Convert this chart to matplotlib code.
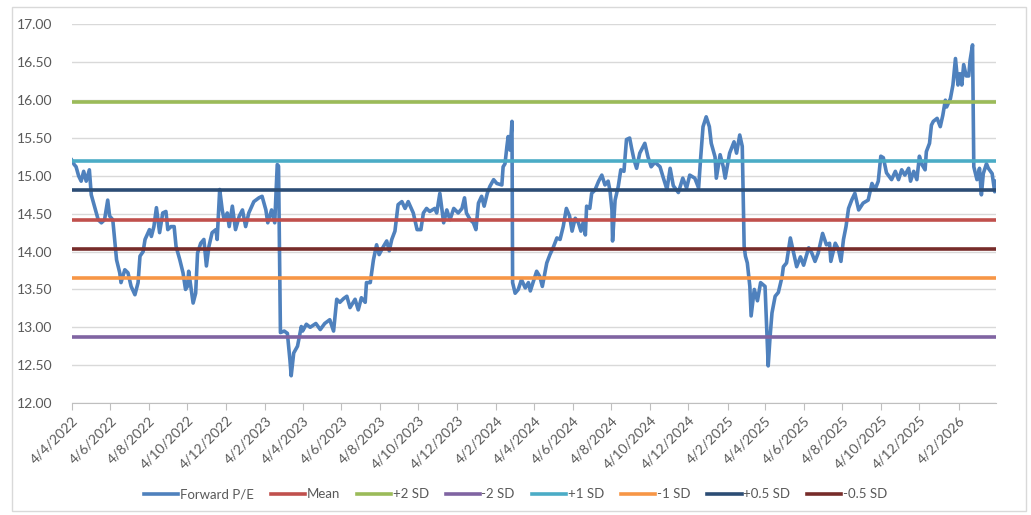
import matplotlib
matplotlib.use("Agg")
import matplotlib.pyplot as plt
import pandas as pd
from matplotlib.patches import Rectangle

plt.rcParams["font.family"] = ["Lato", "DejaVu Sans"]

START = "2022-04-04"
END_DAY = 1461

# forward P/E: day offset from START -> value
DAYS = [
    0, 4, 7, 11, 15, 19, 23, 28, 31, 36, 42, 47, 52, 57, 60, 65, 71, 76, 78, 84,
    89, 94, 100, 105, 108, 113, 116, 123, 126, 130, 134, 139, 144, 149, 152, 157, 162, 165, 171, 176,
    180, 183, 185, 192, 196, 199, 204, 209, 213, 217, 222, 228, 230, 234, 238, 241, 246, 249, 254, 259,
    265, 270, 275, 280, 288, 296, 301, 307, 310, 316, 321, 325, 327, 330, 336, 341, 345, 347, 351, 357,
    363, 365, 371, 377, 386, 393, 400, 408, 414, 419, 424, 430, 435, 440, 448, 453, 458, 464, 466, 472,
    477, 482, 486, 493, 498, 502, 506, 511, 516, 522, 527, 532, 540, 546, 552, 556, 561, 566, 574, 577,
    582, 588, 593, 598, 604, 611, 617, 621, 624, 630, 635, 639, 643, 648, 652, 657, 661, 667, 672, 680,
    682, 685, 688, 690, 693, 696, 697, 701, 706, 711, 717, 722, 725, 730, 735, 740, 744, 751, 756, 761,
    767, 772, 777, 782, 787, 791, 796, 801, 805, 809, 812, 814, 819, 822, 827, 833, 838, 843, 848, 851,
    854, 855, 859, 864, 868, 873, 877, 882, 885, 889, 893, 898, 906, 911, 916, 922, 930, 935, 941, 946,
    951, 959, 966, 972, 977, 985, 991, 994, 998, 1003, 1008, 1011, 1017, 1019, 1025, 1030, 1033, 1040, 1047, 1051,
    1056, 1060, 1063, 1065, 1068, 1072, 1074, 1079, 1084, 1089, 1096, 1101, 1104, 1107, 1112, 1117, 1123, 1125, 1130, 1136,
    1140, 1146, 1152, 1157, 1165, 1170, 1175, 1180, 1187, 1193, 1198, 1200, 1207, 1212, 1216, 1220, 1224, 1228, 1233, 1238,
    1244, 1251, 1259, 1265, 1270, 1275, 1279, 1283, 1288, 1296, 1302, 1307, 1312, 1317, 1323, 1326, 1331, 1336, 1340, 1344,
    1349, 1351, 1356, 1359, 1362, 1368, 1373, 1377, 1381, 1383, 1389, 1393, 1397, 1401, 1404, 1407, 1410, 1414, 1418, 1420,
    1424, 1426, 1431, 1435, 1438, 1441, 1446, 1449, 1455, 1459, 1461,
]
FORWARD_PE = [
    15.21, 15.15, 15.12, 15.00, 14.93, 15.06, 14.93, 15.08, 14.75, 14.60, 14.42, 14.38, 14.42, 14.68, 14.47, 14.42, 13.89, 13.72, 13.59, 13.76,
    13.72, 13.54, 13.43, 13.59, 13.94, 14.00, 14.16, 14.29, 14.20, 14.33, 14.58, 14.25, 14.51, 14.53, 14.29, 14.33, 14.33, 14.07, 13.89, 13.72,
    13.50, 13.54, 13.74, 13.32, 13.45, 13.98, 14.11, 14.16, 13.81, 14.07, 14.25, 14.29, 14.16, 14.82, 14.55, 14.42, 14.51, 14.33, 14.60, 14.29,
    14.47, 14.55, 14.33, 14.51, 14.66, 14.71, 14.73, 14.55, 14.38, 14.55, 14.38, 15.15, 15.13, 12.93, 12.95, 12.92, 12.57, 12.36, 12.66, 12.75,
    13.01, 12.95, 13.04, 13.00, 13.05, 12.97, 13.05, 13.10, 12.95, 13.37, 13.33, 13.38, 13.41, 13.26, 13.37, 13.23, 13.39, 13.33, 13.59, 13.59,
    13.89, 14.09, 13.96, 14.07, 14.14, 14.01, 14.16, 14.27, 14.62, 14.66, 14.57, 14.66, 14.51, 14.29, 14.29, 14.51, 14.57, 14.53, 14.57, 14.51,
    14.77, 14.38, 14.55, 14.42, 14.57, 14.51, 14.57, 14.71, 14.51, 14.42, 14.38, 14.29, 14.64, 14.73, 14.60, 14.77, 14.86, 14.95, 14.90, 14.88,
    15.12, 15.16, 15.39, 15.52, 15.34, 15.72, 13.59, 13.45, 13.50, 13.63, 13.52, 13.59, 13.48, 13.61, 13.74, 13.67, 13.54, 13.85, 13.96, 14.05,
    14.18, 14.16, 14.33, 14.57, 14.47, 14.27, 14.44, 14.38, 14.27, 14.40, 14.22, 14.60, 14.57, 14.77, 14.81, 14.93, 15.01, 14.88, 14.93, 14.80,
    14.55, 14.14, 14.68, 14.86, 15.08, 15.06, 15.48, 15.50, 15.37, 15.21, 15.10, 15.30, 15.43, 15.25, 15.12, 15.18, 15.12, 14.98, 14.82, 15.10,
    14.87, 14.78, 14.97, 14.84, 15.01, 14.97, 14.84, 15.21, 15.65, 15.78, 15.65, 15.43, 15.25, 14.97, 15.28, 15.12, 14.97, 15.30, 15.45, 15.30,
    15.54, 15.39, 14.07, 13.94, 13.85, 13.54, 13.15, 13.50, 13.35, 13.59, 13.54, 12.49, 12.88, 13.19, 13.41, 13.46, 13.67, 13.80, 13.85, 14.18,
    14.03, 13.80, 13.93, 13.82, 14.05, 13.98, 13.87, 13.98, 14.24, 14.09, 14.11, 13.87, 14.11, 14.03, 13.87, 14.16, 14.33, 14.57, 14.68, 14.77,
    14.55, 14.64, 14.68, 14.90, 14.82, 14.93, 15.26, 15.24, 15.04, 14.95, 15.06, 14.95, 15.08, 15.01, 15.10, 14.93, 15.06, 14.95, 15.26, 15.15,
    15.08, 15.32, 15.43, 15.67, 15.72, 15.76, 15.65, 15.80, 16.00, 15.91, 16.02, 16.20, 16.55, 16.20, 16.35, 16.20, 16.47, 16.32, 16.32, 16.52,
    16.73, 15.12, 14.95, 15.10, 14.75, 15.03, 15.16, 15.10, 15.03, 14.79, 14.93,
]

BAND_LABELS = ["Mean", "+2 SD", "-2 SD", "+1 SD", "-1 SD", "+0.5 SD", "-0.5 SD"]
BAND_VALUES = [14.42, 15.97, 12.87, 15.195, 13.645, 14.8075, 14.0325]
BAND_COLORS = ["#C0504D", "#9BBB59", "#8064A2", "#4BACC6", "#F79646", "#2C4D75", "#772C2A"]

Y_TICKS = [12.0, 12.5, 13.0, 13.5, 14.0, 14.5, 15.0, 15.5, 16.0, 16.5, 17.0]


def main():
    start = pd.Timestamp(START)
    dates = start + pd.to_timedelta(DAYS, unit="D")
    end = start + pd.Timedelta(days=END_DAY)

    fig = plt.figure(figsize=(10.31, 5.15), dpi=100)
    ax = fig.add_axes([0.0695, 0.2175, 0.8965, 0.735])

    ax.plot(dates, FORWARD_PE, color="#4F81BD", lw=2.6, label="Forward P/E", zorder=3,
            solid_joinstyle="round")
    for lab, val, col in zip(BAND_LABELS, BAND_VALUES, BAND_COLORS):
        ax.plot([start, end], [val, val], color=col, lw=2.6, label=lab, zorder=4)

    ax.set_xlim(start, end)
    ax.set_ylim(12, 17)
    ax.set_yticks(Y_TICKS)
    ax.set_yticklabels([f"{v:.2f}" for v in Y_TICKS])

    ticks = pd.date_range(START, "2026-02-04", freq=pd.DateOffset(months=2))
    ax.set_xticks(ticks)
    ax.set_xticklabels([f"{d.day}/{d.month}/{d.year}" for d in ticks],
                       rotation=45, ha="right", rotation_mode="anchor")

    ax.grid(axis="y", color="#D9D9D9", lw=1)
    ax.set_axisbelow(True)
    for s in ["left", "right", "top"]:
        ax.spines[s].set_visible(False)
    ax.spines["bottom"].set_color("#BFBFBF")
    ax.tick_params(axis="y", length=0, labelsize=10, labelcolor="#595959", pad=14)
    ax.tick_params(axis="x", length=5, color="#BFBFBF", labelsize=10, labelcolor="#595959", pad=3)

    fig.legend(loc="center", bbox_to_anchor=(0.5, 0.04), ncol=8, frameon=False,
               fontsize=9.5, handlelength=2.6, columnspacing=1.3, handletextpad=0.1,
               labelcolor="#595959")

    fig.patches.append(Rectangle((0.012, 0.008), 0.983, 0.978, transform=fig.transFigure,
                                 fill=False, edgecolor="#D9D9D9", lw=1))

    fig.savefig("out.png", dpi=100)


if __name__ == "__main__":
    main()
